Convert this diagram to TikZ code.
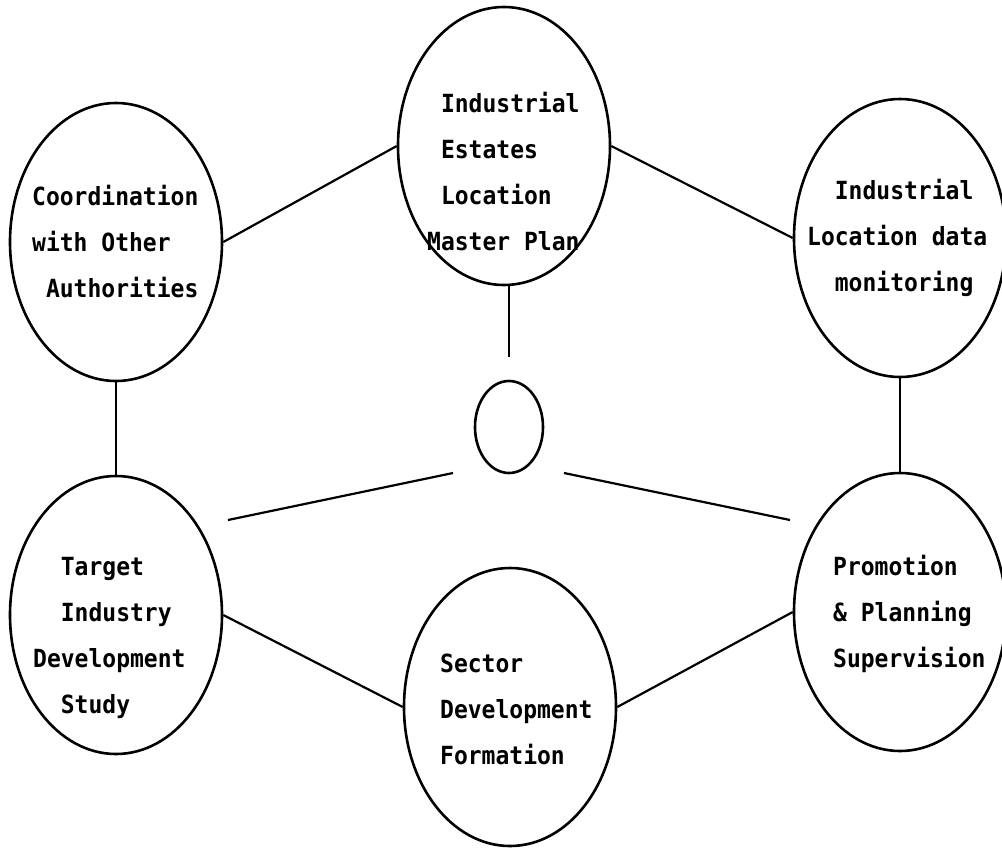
\documentclass[tikz,border=0pt]{standalone}
\usepackage{fontspec}
\newfontfamily\typefont[FakeStretch=0.92]{DejaVu Sans Mono}
\usetikzlibrary{shapes.geometric,calc}

\tikzset{
  bubble/.style={ellipse, draw, line width=2.6pt, inner sep=0pt,
    minimum width=212pt, minimum height=278pt},
  hubbubble/.style={ellipse, draw, line width=2.6pt, inner sep=0pt,
    minimum width=68pt, minimum height=92pt},
  caption/.style={anchor=west, inner sep=0pt, align=left,
    font=\typefont\bfseries\fontsize{25pt}{46pt}\selectfont},
  link/.style={line width=2.2pt}
}
% indent by the width of the given monospaced characters
\newcommand\pad[1]{\phantom{#1}}

\begin{document}
\begin{tikzpicture}[x=1pt, y=-1pt]
  \useasboundingbox (0,0) rectangle (1002,847);

  % the seven bubbles
  \node[bubble] (tc) at (504,146) {};
  \node[bubble] (lt) at (116,242) {};
  \node[bubble] (rt) at (900,238) {};
  \node[bubble] (lb) at (116,615) {};
  \node[bubble] (bc) at (510,707) {};
  \node[bubble] (rb) at (900,612) {};
  \node[hubbubble] (hub) at (509,427) {};

  % bubble texts
  \node[caption] (tctext) at (427,172) {\pad{x}Industrial\\\pad{x}Estates\\\pad{x}Location\\Master Plan};
  \node[caption] (lttext) at (32,242) {Coordination\\with Other\\\pad{x}Authorities};
  \node[caption] (rttext) at (807,238) {\pad{xx}Industrial\\Location data\\\pad{xx}monitoring};
  \node[caption] (lbtext) at (33,638) {\pad{xx}Target\\\pad{xx}Industry\\Development\\\pad{xx}Study};
  \node[caption] (bctext) at (440,709) {Sector\\Development\\Formation};
  \node[caption] (rbtext) at (833,614) {Promotion\\\& Planning\\Supervision};

  % free ends of the two spokes around the hub
  \coordinate (spokeLa) at (228,520);
  \coordinate (spokeLb) at (453,473);
  \coordinate (spokeRa) at (564,473);
  \coordinate (spokeRb) at (790,520);

  % connectors
  \draw[link] (lt.east) -- (tc.west);
  \draw[link] (tc.east) -- (rt.west);
  \draw[link] (lt.south) -- (lb.north);
  \draw[link] (rt.south) -- (rb.north);
  \draw[link] (lb.east) -- (bc.west);
  \draw[link] (bc.east) -- (rb.west);
  \draw[link, shorten >=23pt] (tc.south -| hub.north) -- (hub.north);
  \draw[link] (spokeLa) -- (spokeLb);
  \draw[link] (spokeRa) -- (spokeRb);
\end{tikzpicture}
\end{document}
